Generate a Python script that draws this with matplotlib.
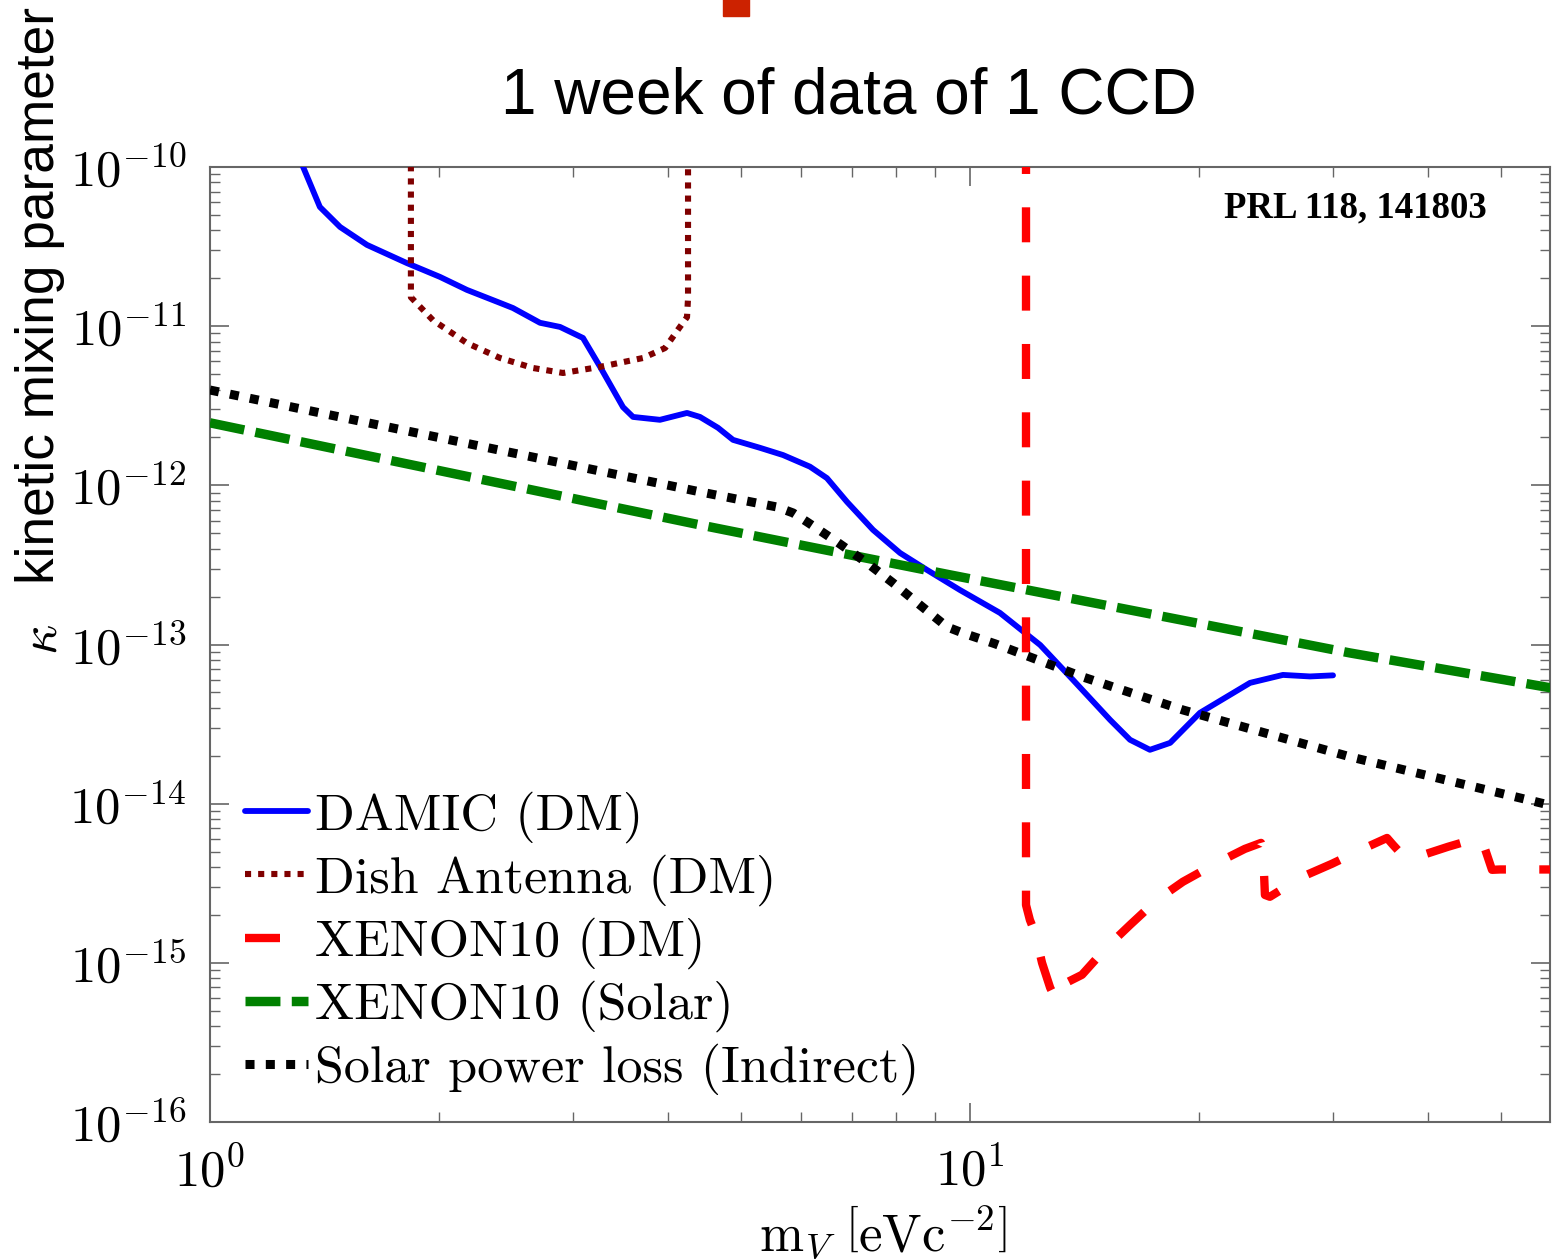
import numpy as np
import matplotlib
matplotlib.use('Agg')
import matplotlib.pyplot as plt
from matplotlib.ticker import LogLocator, NullFormatter, FuncFormatter, FixedLocator
from matplotlib.patches import Rectangle
from matplotlib.font_manager import FontProperties

plt.rcParams['mathtext.fontset'] = 'cm'

# ---------------- data (m_V in eV, kappa) ----------------
damic_m = [1.31, 1.326, 1.395, 1.483, 1.609, 1.816, 2.007, 2.178, 2.408, 2.504, 2.718,
           2.888, 3.096, 3.261, 3.495, 3.603, 3.909, 4.243, 4.413, 4.66, 4.878, 5.294,
           5.675, 6.158, 6.483, 6.89, 7.455, 8.09, 8.78, 9.70, 10.95, 12.37, 13.66,
           15.29, 16.24, 17.25, 18.34, 20.07, 23.36, 25.81, 28.02, 30.04]
damic_k = [1.15e-10, 1.0e-10, 5.61e-11, 4.20e-11, 3.24e-11, 2.49e-11, 2.04e-11, 1.69e-11,
           1.40e-11, 1.30e-11, 1.05e-11, 9.89e-12, 8.43e-12, 5.55e-12, 3.10e-12, 2.69e-12,
           2.58e-12, 2.85e-12, 2.69e-12, 2.30e-12, 1.93e-12, 1.72e-12, 1.55e-12, 1.31e-12,
           1.11e-12, 7.87e-13, 5.25e-13, 3.76e-13, 2.94e-13, 2.20e-13, 1.58e-13, 9.93e-14,
           6.00e-14, 3.36e-14, 2.52e-14, 2.18e-14, 2.41e-14, 3.72e-14, 5.74e-14, 6.44e-14,
           6.30e-14, 6.40e-14]

dish_m = [1.838, 1.838, 1.965, 2.178, 2.408, 2.661, 2.914, 3.261, 3.713, 3.97, 4.153,
          4.243, 4.256, 4.256]
dish_k = [1.5e-10, 1.52e-11, 1.09e-11, 7.83e-12, 6.31e-12, 5.46e-12, 5.08e-12, 5.55e-12,
          6.31e-12, 7.29e-12, 9.89e-12, 1.14e-11, 1.5e-11, 1.5e-10]

xdm_m = [11.85, 11.85, 11.99, 12.18, 12.44, 12.75, 12.98, 13.22, 13.46, 14.04, 15.15,
         16.24, 17.63, 19.06, 21.14, 23.0, 24.15, 24.30, 24.44, 24.81, 27.35, 29.94,
         33.09, 35.38, 36.03, 37.36, 38.74, 42.56, 46.61, 47.18, 48.63, 49.83, 60.0]
xdm_k = [1.5e-10, 2.31e-15, 1.86e-15, 1.54e-15, 1.0e-15, 6.97e-16, 5.86e-16, 6.97e-16,
         7.60e-16, 8.41e-16, 1.26e-15, 1.73e-15, 2.49e-15, 3.23e-15, 4.25e-15, 5.20e-15,
         5.67e-15, 5.13e-15, 2.67e-15, 2.60e-15, 3.47e-15, 4.19e-15, 5.27e-15, 6.09e-15,
         5.51e-15, 4.56e-15, 4.63e-15, 5.36e-15, 6.09e-15, 5.91e-15, 3.84e-15, 3.86e-15,
         3.86e-15]

xsolar_m = [1.0, 4.413, 9.41, 31.62, 60.0]
xsolar_k = [2.47e-12, 5.64e-13, 2.74e-13, 8.85e-14, 5.2e-14]

sloss_m = [1.0, 2.07, 4.413, 5.572, 5.849, 6.104, 6.683, 7.318, 7.918, 8.595, 9.327,
           9.79, 10.79, 14.08, 19.06, 31.62, 60.0]
sloss_k = [3.97e-12, 1.93e-12, 9.10e-13, 7.31e-13, 6.71e-13, 5.89e-13, 4.41e-13, 3.26e-13,
           2.44e-13, 1.77e-13, 1.29e-13, 1.18e-13, 1.01e-13, 6.25e-14, 3.88e-14, 1.97e-14,
           9.4e-15]

labels = ['DAMIC (DM)', 'Dish Antenna (DM)', 'XENON10 (DM)', 'XENON10 (Solar)',
          'Solar power loss (Indirect)']
x_major = [1, 10]
y_major = [1e-16, 1e-15, 1e-14, 1e-13, 1e-12, 1e-11, 1e-10]

# ---------------- figure ----------------
W, H = 1556, 1260
fig = plt.figure(figsize=(W / 100, H / 100), dpi=100)
ax = fig.add_axes([210 / W, 1 - 1122 / H, 1340 / W, 955 / H])
ax.set_xscale('log')
ax.set_yscale('log')
ax.set_xlim(1, 57.97)
ax.set_ylim(1e-16, 1e-10)

ax.plot(damic_m, damic_k, color='#0000ff', lw=4.2, solid_joinstyle='round',
        solid_capstyle='round', label=labels[0], zorder=3)
ax.plot(dish_m, dish_k, color='#7f0000', lw=4.4, linestyle=(0, (1.0, 1.15)),
        label=labels[1], zorder=3)
ax.plot(xdm_m, xdm_k, color='#ff0000', lw=6.0, linestyle=(0, (4.2, 4.0)),
        label=labels[2], zorder=3)
ax.plot(xsolar_m, xsolar_k, color='#008000', lw=6.8, linestyle=(0, (3.7, 1.2)),
        label=labels[3], zorder=3)
ax.plot(sloss_m, sloss_k, color='black', lw=6.5, linestyle=(0, (1.0, 1.25)),
        label=labels[4], zorder=3)

# ticks
ax.xaxis.set_major_locator(FixedLocator(x_major))
ax.yaxis.set_major_locator(FixedLocator(y_major))
ax.xaxis.set_minor_locator(LogLocator(base=10, subs=np.arange(2, 10), numticks=50))
ax.yaxis.set_minor_locator(LogLocator(base=10, subs=np.arange(2, 10), numticks=50))
fmt = FuncFormatter(lambda v, p: r'$10^{%d}$' % int(round(np.log10(v))))
ax.xaxis.set_major_formatter(fmt)
ax.yaxis.set_major_formatter(fmt)
ax.xaxis.set_minor_formatter(NullFormatter())
ax.yaxis.set_minor_formatter(NullFormatter())
ax.tick_params(which='both', direction='in', top=True, right=True,
               color='#666666', labelcolor='black', labelsize=36.5)
ax.tick_params(which='major', length=14, width=1.2)
ax.tick_params(which='minor', length=7, width=1.0)
ax.tick_params(axis='y', which='major', pad=17)
ax.tick_params(axis='x', which='major', pad=18)
for s in ax.spines.values():
    s.set_color('#666666')
    s.set_linewidth(1.5)

leg = ax.legend(loc='lower left', bbox_to_anchor=(0.026, 0.028), frameon=False,
                prop=FontProperties(family='cmr10', size=37.5), handlelength=1.22,
                handletextpad=0.12, labelspacing=0.22, borderpad=0, borderaxespad=0)

# texts
ax.text(1355 / W, 1 - 208 / H, 'PRL 118, 141803', transform=fig.transFigure,
        ha='center', va='center', fontsize=26.5, family='Liberation Serif',
        fontweight='bold')
fig.text(849 / W, 1 - 97 / H, '1 week of data of 1 CCD', ha='center', va='center',
         fontsize=46, family='Liberation Sans')
fig.text(40 / W, 1 - 295 / H, 'kinetic mixing parameter', rotation=90, ha='center',
         va='center', fontsize=38.3, family='Liberation Sans')
fig.text(42 / W, 1 - 640 / H, r'$\kappa$', rotation=90, ha='center', va='center',
         fontsize=38)
fig.text(883 / W, 1 - 1232 / H, r'$\mathrm{m}_V\ \left[\mathrm{eVc}^{-2}\right]$',
         ha='center', va='center', fontsize=38)
fig.patches.append(Rectangle((723 / W, 1 - 16 / H), 26 / W, 30 / H,
                             transform=fig.transFigure, color='#cc2200'))

fig.savefig('out.png', dpi=100)
